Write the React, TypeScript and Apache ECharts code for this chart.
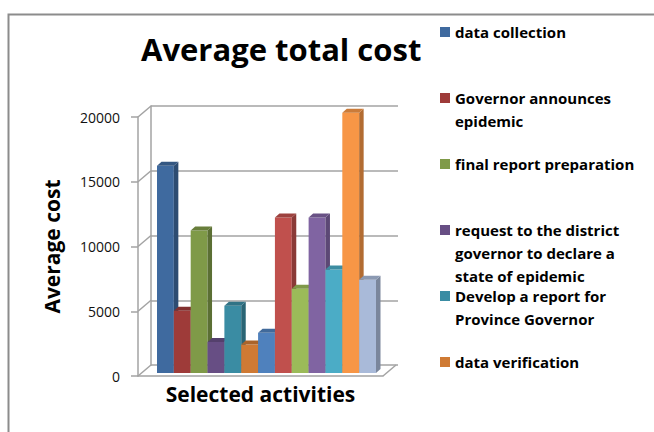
import React, { useEffect, useRef } from "react";
import * as echarts from "echarts";

const activities = [
  "data collection",
  "Governor announces epidemic",
  "final report preparation",
  "request to the district governor to declare a state of epidemic",
  "Develop a report for Province Governor",
  "data verification",
  "activity 7",
  "activity 8",
  "activity 9",
  "activity 10",
  "activity 11",
  "activity 12",
  "activity 13",
];
const averageCost = [16000, 4800, 11000, 2400, 5200, 2200, 3100, 12000, 6500, 12000, 8000, 20100, 7200];
const barColors = [
  "#3F6A9F", "#9E3B39", "#7F9A48", "#674E84", "#3A8CA3", "#CF7A34",
  "#4F81BD", "#C0504D", "#9BBB59", "#8064A2", "#4BACC6", "#F79646", "#A9BAD9",
];
const yTicks = [0, 5000, 10000, 15000, 20000];
const legendLabels = [
  "data collection",
  "Governor announces\nepidemic",
  "final report preparation",
  "request to the district\ngovernor to declare a\nstate of epidemic",
  "Develop a report for\nProvince Governor",
  "data verification",
];

const FONT = "Open Sans";
const LINE = "#A3A3A3";
const DX = 13; // wall depth offset
const DY = 11;
const BDX = 4.5; // bar depth offset
const BDY = 4;
const LH = 23;

function shade(hex: string, f: number) {
  const n = parseInt(hex.slice(1), 16);
  const r = Math.round(((n >> 16) & 255) * f);
  const g = Math.round(((n >> 8) & 255) * f);
  const b = Math.round((n & 255) * f);
  return `rgb(${r},${g},${b})`;
}

export default function App() {
  const ref = useRef<HTMLDivElement>(null);
  useEffect(() => {
    if (!ref.current) return;
    const chart = echarts.init(ref.current, null, { renderer: "svg" });

    const barSeries = activities.map((name, i) => ({
      type: "custom",
      name,
      xAxisIndex: 2,
      yAxisIndex: 2,
      clip: false,
      z: 3,
      itemStyle: { color: barColors[i] },
      encode: { x: 0, y: 1 },
      data: [[i, averageCost[i]]],
      renderItem: (params: any, api: any) => {
        const x = api.value(0);
        const v = api.value(1);
        const base = api.coord([x, 0]);
        const top = api.coord([x, v]);
        const w = api.size([1, 0])[0];
        const xl = base[0] - w / 2;
        const xr = base[0] + w / 2;
        const c = barColors[i];
        const side = shade(c, 0.72);
        const topC = shade(c, 0.82);
        return {
          type: "group",
          children: [
            {
              type: "rect",
              shape: { x: xl, y: top[1], width: w, height: base[1] - top[1] },
              style: { fill: c },
            },
            {
              type: "polygon",
              shape: {
                points: [
                  [xr, top[1]],
                  [xr + BDX, top[1] - BDY],
                  [xr + BDX, base[1] - BDY],
                  [xr, base[1]],
                ],
              },
              style: { fill: side },
            },
            {
              type: "polygon",
              shape: {
                points: [
                  [xl, top[1]],
                  [xl + BDX, top[1] - BDY],
                  [xr + BDX, top[1] - BDY],
                  [xr, top[1]],
                ],
              },
              style: { fill: topC },
            },
          ],
        };
      },
    }));

    const wallSeries = {
      type: "custom",
      name: "walls",
      xAxisIndex: 0,
      yAxisIndex: 0,
      clip: false,
      silent: true,
      z: 1,
      data: [...yTicks.map((t) => [0, t]), [1, 0]],
      renderItem: (params: any, api: any) => {
        const p = api.coord([api.value(0), api.value(1)]);
        return {
          type: "line",
          shape: { x1: p[0], y1: p[1], x2: p[0] + DX, y2: p[1] - DY },
          style: { stroke: LINE, lineWidth: 1.5 },
        };
      },
    };

    const legends = legendLabels.map((label, k) => {
      const n = label.split("\n").length;
      const c = 32 + 66 * k;
      // leading empty lines so that the first text line sits level with the icon
      const shown = "\n".repeat(n - 1) + label;
      return {
        data: [activities[k]],
        left: 440,
        top: c - ((2 * n - 1) * LH) / 2,
        padding: 0,
        icon: "rect",
        itemWidth: 10,
        itemHeight: 10,
        selectedMode: false,
        formatter: () => shown,
        textStyle: {
          fontFamily: FONT,
          fontWeight: "bold",
          fontSize: 15,
          color: "#000",
          lineHeight: LH,
        },
      };
    });

    chart.setOption({
      animation: false,
      backgroundColor: "#fff",
      title: {
        text: "Average total cost",
        left: 141,
        top: 33,
        padding: 0,
        textStyle: { fontFamily: FONT, fontWeight: "bold", fontSize: 31, color: "#000" },
      },
      legend: legends,
      graphic: [
        {
          type: "rect",
          left: 6,
          top: 12,
          shape: { width: 700, height: 500 },
          style: { fill: "none", stroke: "#8C8C8C", lineWidth: 2 },
          silent: true,
        },
      ],
      grid: [
        { left: 138, right: 271, top: 117, bottom: 56 },
        { left: 151, right: 256, top: 106, bottom: 67 },
        { left: 157, right: 278, top: 114, bottom: 59 },
      ],
      xAxis: [
        {
          gridIndex: 0,
          type: "value",
          min: 0,
          max: 1,
          axisLine: { show: true, lineStyle: { color: LINE, width: 1.5 } },
          axisTick: { show: false },
          axisLabel: { show: false },
          splitLine: { show: false },
          name: "Selected activities",
          nameLocation: "middle",
          nameGap: 7,
          nameTextStyle: { fontFamily: FONT, fontWeight: "bold", fontSize: 21, color: "#000" },
        },
        { gridIndex: 1, type: "value", min: 0, max: 1, show: false },
        { gridIndex: 2, type: "category", data: activities, show: false },
      ],
      yAxis: [
        {
          gridIndex: 0,
          type: "value",
          min: 0,
          max: 20000,
          interval: 5000,
          axisLine: { show: true, lineStyle: { color: LINE, width: 1.5 } },
          axisTick: { show: true, length: 7, lineStyle: { color: LINE, width: 1.5 } },
          axisLabel: {
            margin: 18,
            fontFamily: FONT,
            fontSize: 14,
            color: "#111",
            formatter: (v: number) => String(v),
          },
          splitLine: { show: false },
          name: "Average cost",
          nameLocation: "middle",
          nameGap: 76,
          nameTextStyle: { fontFamily: FONT, fontWeight: "bold", fontSize: 21, color: "#000" },
        },
        {
          gridIndex: 1,
          type: "value",
          min: 0,
          max: 20000,
          interval: 5000,
          axisLine: { show: true, lineStyle: { color: LINE, width: 1.5 } },
          axisTick: { show: false },
          axisLabel: { show: false },
          splitLine: { show: true, lineStyle: { color: LINE, width: 1.5 } },
        },
        { gridIndex: 2, type: "value", min: 0, max: 20000, show: false },
      ],
      series: [wallSeries, ...barSeries],
    });
    return () => chart.dispose();
  }, []);
  return (
    <div
      ref={ref}
      style={{ position: "fixed", left: 0, top: 0, width: 654, height: 432 }}
    />
  );
}
